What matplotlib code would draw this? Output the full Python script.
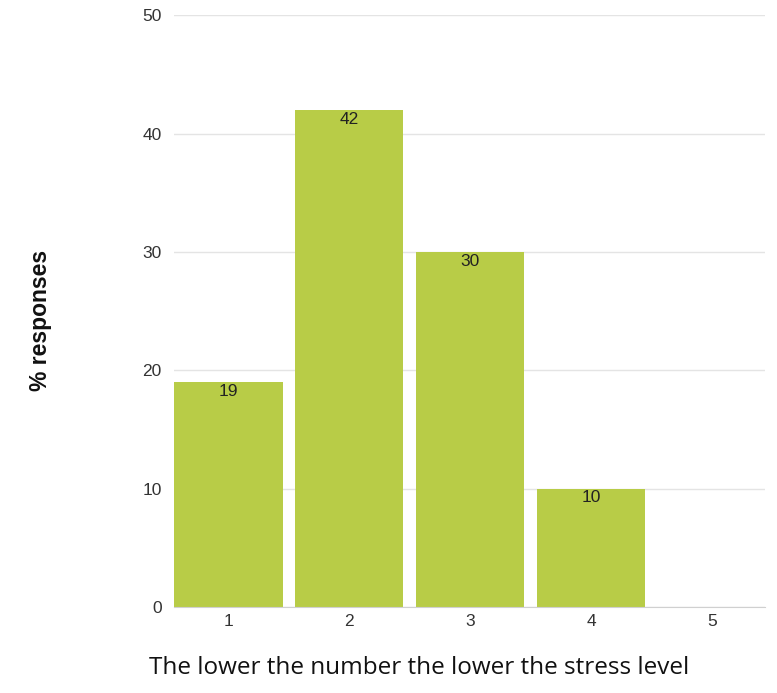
import matplotlib.pyplot as plt

# stress level survey: share of responses per level
levels = ["1", "2", "3", "4", "5"]
pct_responses = [19, 42, 30, 10, 0]
y_ticks = [0, 10, 20, 30, 40, 50]

bar_color = "#b8cc47"
grid_color = "#e4e4e4"

fig = plt.figure(figsize=(7.77, 6.93), dpi=100)
ax = fig.add_axes([0.224, 0.124, 0.761, 0.854])

x = list(range(1, len(levels) + 1))
bars = ax.bar(x, pct_responses, width=0.895, color=bar_color, zorder=2)

for rect, v in zip(bars, pct_responses):
    if v <= 0:
        continue
    ax.text(rect.get_x() + rect.get_width() / 2, v - 0.15, str(v),
            ha="center", va="top", fontsize=12.5, color="#222222",
            family="Liberation Sans", zorder=3)

ax.set_xlim(0.55, 5.44)
ax.set_ylim(0, 50)
ax.set_yticks(y_ticks)
ax.set_xticks(x)
ax.set_xticklabels(levels)
ax.grid(axis="y", color=grid_color, linewidth=1, zorder=0)
ax.set_axisbelow(True)

for side in ("top", "right", "left"):
    ax.spines[side].set_visible(False)
ax.spines["bottom"].set_color("#d0d0d0")

ax.tick_params(axis="both", length=0, labelsize=12.5, labelcolor="#333333")
ax.tick_params(axis="x", pad=5)
ax.tick_params(axis="y", pad=9)
for lbl in ax.get_xticklabels() + ax.get_yticklabels():
    lbl.set_family("Liberation Sans")

fig.text(0.052, 0.538, "% responses", rotation=90, ha="center", va="center",
         fontsize=16.5, fontweight="bold", family="Liberation Sans", color="#111111")
fig.text(0.539, 0.036, "The lower the number the lower the stress level",
         ha="center", va="center", fontsize=17.5, family="Open Sans", color="#111111")

fig.savefig("out.png", dpi=100)
